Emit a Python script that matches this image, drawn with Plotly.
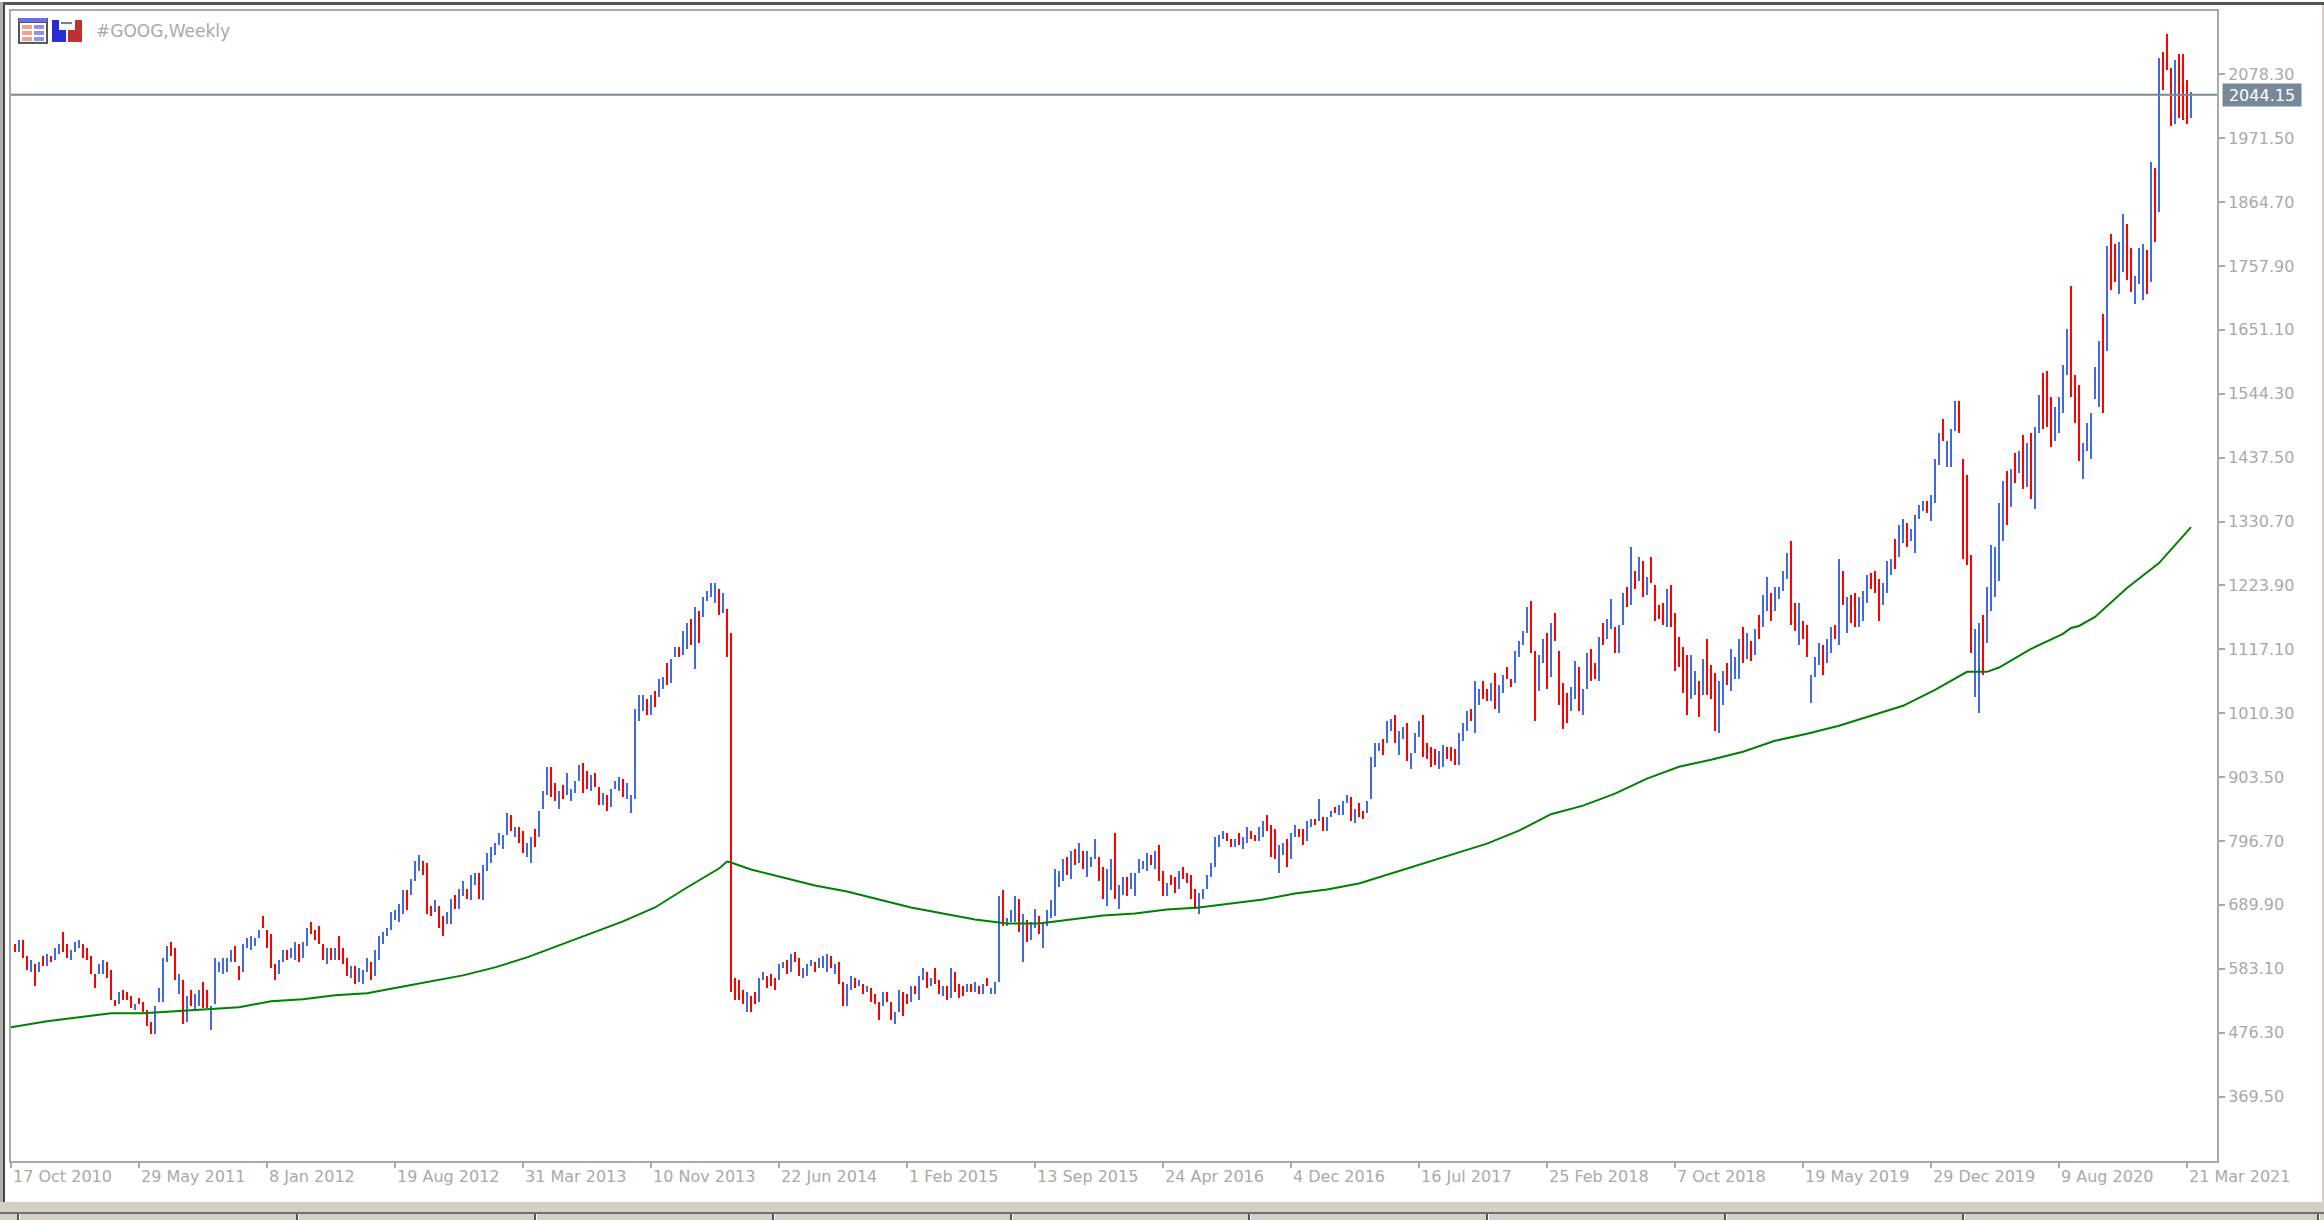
import plotly.graph_objects as go

# Weekly GOOG bars: high and low of each week, oldest first
WEEK_HIGH = [
    623.8,630.4,630.4,603.7,597.1,590.4,593.7,603.7,607.1,603.7,
    617.1,623.8,643.8,623.8,613.8,627.1,630.4,623.8,617.1,603.7,
    573.7,590.4,597.1,593.7,580.4,530.3,543.7,547,543.7,537,
    523.6,533.7,527,513.6,493.6,520.3,550.3,600.4,620.4,627.1,
    617.1,573.7,563.7,537,547,540.3,547,560.4,547,520.3,
    600.4,593.7,600.4,600.4,613.8,620.4,587.1,623.8,633.8,637.1,
    633.8,647.1,670.5,647.1,640.4,590.4,597.1,613.8,613.8,617.1,
    627.1,623.8,627.1,650.5,660.5,647.1,653.8,623.8,617.1,617.1,
    617.1,637.1,617.1,600.4,587.1,587.1,583.7,580.4,600.4,593.7,
    613.8,637.1,643.8,650.5,677.2,680.5,690.5,713.9,713.9,733.9,
    763.9,773.9,763.9,760.6,687.2,697.2,687.2,670.5,677.2,700.5,
    707.2,717.2,730.6,717.2,740.6,743.9,743.9,757.2,777.3,787.3,
    794,810.6,807.3,844,840.7,820.7,820.7,814,794,804,
    817.3,847.4,880.7,920.8,920.8,894.1,880.7,890.7,910.8,884.1,
    897.4,924.1,927.5,914.1,907.4,910.8,887.4,877.4,874.1,884.1,
    897.4,904.1,900.8,894.1,874.1,1017.6,1040.9,1040.9,1034.3,1040.9,
    1047.6,1067.7,1071,1094.4,1101,1121.1,1121.1,1147.8,1161.1,1167.8,
    1187.8,1181.1,1204.5,1214.5,1227.9,1227.9,1217.8,1211.2,1184.5,1144.4,
    567,563.7,547,543.7,537,543.7,567,577,570.4,573.7,
    567,590.4,593.7,597.1,607.1,610.4,600.4,583.7,590.4,597.1,
    593.7,600.4,603.7,607.1,603.7,590.4,593.7,560.4,557,570.4,
    567,563.7,557,553.7,550.3,540.3,527,543.7,543.7,527,
    510.3,547,543.7,540.3,553.7,553.7,570.4,583.7,577,567,
    583.7,563.7,553.7,553.7,583.7,577,557,553.7,557,557,
    560.4,553.7,557,567,550.3,560.4,703.9,713.9,667.1,680.5,
    703.9,700.5,673.8,663.8,660.5,683.8,670.5,657.1,680.5,697.2,
    750.6,747.2,767.3,770.6,780.6,783.9,794,780.6,780.6,770.6,
    800.6,770.6,753.9,750.6,767.3,810.6,723.9,737.2,737.2,743.9,
    743.9,767.3,763.9,777.3,773.9,780.6,790.6,747.2,727.2,740.6,
    737.2,747.2,753.9,743.9,740.6,717.2,710.5,717.2,740.6,760.6,
    804,807.3,814,810.6,800.6,800.6,810.6,804,820.7,814,
    807.3,820.7,830.7,840.7,824,817.3,790.6,794,800.6,810.6,
    824,817.3,817.3,830.7,834,834,867.4,837.3,837.3,847.4,
    854,857.4,864.1,874.1,870.7,850.7,860.7,847.4,864.1,937.5,
    960.8,960.8,967.5,997.6,1000.9,1007.6,980.9,987.5,994.2,944.1,
    977.5,997.6,1007.6,960.8,954.2,950.8,947.5,957.5,954.2,954.2,
    950.8,977.5,994.2,1014.2,1017.6,1064.3,1051,1064.3,1051,1061,
    1077.7,1057.6,1074.3,1087.7,1067.7,1114.4,1131.1,1147.8,1187.8,1197.9,
    1114.4,1107.7,1134.4,1144.4,1161.1,1177.8,1114.4,1061,1044.3,1054.3,
    1097.7,1087.7,1051,1111.1,1117.7,1094.4,1137.8,1161.1,1167.8,1201.1,
    1154.4,1157.8,1211.2,1221.2,1288,1247.9,1271.3,1264.6,1237.9,1271.3,
    1224.5,1191.2,1194.5,1217.8,1224.5,1177.8,1137.8,1121.1,1107.7,1107.7,
    1081,1064.3,1101,1134.4,1091,1077.7,1064.3,1081,1094.4,1117.7,
    1104.4,1134.4,1154.4,1144.4,1131.1,1151.1,1174.5,1207.8,1237.9,1211.2,
    1221.2,1221.2,1247.9,1277.9,1298,1194.5,1194.5,1164.5,1157.8,1074.3,
    1104.4,1127.7,1124.4,1134.4,1154.4,1157.8,1267.9,1247.9,1204.5,1207.8,
    1211.2,1204.5,1214.5,1241.2,1244.6,1247.9,1234.5,1227.9,1264.6,1267.9,
    1301.3,1324.7,1334.7,1328,1318,1341.3,1358,1364.7,1364.7,1374.7,
    1434.8,1478.2,1501.6,1464.9,1484.9,1531.6,1531.6,1434.8,1408.1,1274.6,
    1151.1,1161.1,1174.5,1221.2,1291.3,1288,1361.4,1398.1,1414.8,1418.1,
    1444.8,1448.2,1474.8,1461.5,1478.2,1488.2,1541.6,1578.3,1581.7,1538.3,
    1521.6,1538.3,1591.7,1651.8,1725.2,1575,1558.3,1461.5,1494.9,1511.6,
    1588.3,1631.7,1678.4,1791.9,1812,1795.3,1798.6,1845.3,1828.6,1788.6,
    1741.9,1788.6,1795.3,1785.2,1932.1,1922.1,2105.6,2115.7,2145.7,2088.9,
    2102.3,2112.3,2112.3,2068.9,2049,
]
WEEK_LOW = [
    610.4,610.4,600.4,580.4,577,553.7,577,587.1,587.1,593.7,
    597.1,607.1,610.4,600.4,597.1,610.4,617.1,600.4,597.1,573.7,
    550.3,573.7,573.7,567,530.3,520.3,523.6,530.3,530.3,517,
    513.6,523.6,510.3,486.9,473.6,473.6,527,527,593.7,603.7,
    563.7,540.3,490.3,493.6,520.3,513.6,520.3,517,517,480.3,
    523.6,577,573.7,577,593.7,593.7,563.7,577,617.1,613.8,
    620.4,633.8,650.5,617.1,583.7,563.7,573.7,593.7,597.1,600.4,
    597.1,593.7,600.4,620.4,640.4,630.4,623.8,597.1,590.4,597.1,
    597.1,597.1,590.4,570.4,567,557,560.4,557,577,563.7,
    570.4,597.1,623.8,637.1,647.1,663.8,660.5,673.8,680.5,707.2,
    730.6,747.2,740.6,673.8,670.5,677.2,650.5,637.1,657.1,657.1,
    683.8,683.8,703.9,700.5,697.2,723.9,700.5,697.2,747.2,760.6,
    773.9,790.6,784,807.3,814,804,794,777.3,770.6,760.6,
    787.3,804,850.7,874.1,870.7,864.1,850.7,867.4,874.1,864.1,
    877.4,897.4,877.4,884.1,880.7,887.4,857.4,857.4,847.4,854,
    884.1,880.7,870.7,867.4,844,867.4,997.6,1014.2,1007.6,1007.6,
    1020.9,1037.6,1051,1057.6,1061,1104.4,1104.4,1107.7,1117.7,1124.4,
    1084.3,1127.7,1171.1,1197.9,1204.5,1194.5,1174.5,1177.8,1104.4,543.7,
    530.3,530.3,523.6,510.3,510.3,523.6,527,563.7,550.3,553.7,
    547,563.7,583.7,573.7,577,593.7,570.4,567,570.4,587.1,
    577,583.7,583.7,577,583.7,573.7,557,520.3,520.3,547,
    550.3,553.7,540.3,543.7,527,523.6,497,520.3,527,497,
    490.3,510.3,503.6,523.6,527,540.3,530.3,563.7,550.3,553.7,
    557,540.3,537,530.3,533.7,543.7,533.7,537,543.7,543.7,
    543.7,540.3,540.3,553.7,540.3,540.3,560.4,653.8,653.8,660.5,
    660.5,643.8,593.7,627.1,630.4,650.5,640.4,617.1,653.8,667.1,
    670.5,720.5,730.6,740.6,733.9,757.2,760.6,750.6,737.2,753.9,
    767.3,730.6,700.5,687.2,713.9,700.5,683.8,707.2,703.9,717.2,
    703.9,743.9,750.6,747.2,757.2,750.6,730.6,703.9,703.9,723.9,
    710.5,717.2,733.9,727.2,700.5,683.8,673.8,700.5,717.2,737.2,
    753.9,787.3,800.6,797.3,787.3,787.3,790.6,783.9,794,800.6,
    797.3,797.3,804,814,770.6,767.3,743.9,773.9,753.9,767.3,
    804,804,790.6,797.3,820.7,824,830.7,814,814,837.3,
    844,840.7,840.7,860.7,830.7,827.3,837.3,834,844,867.4,
    920.8,947.5,940.8,960.8,980.9,960.8,940.8,967.5,930.8,917.4,
    944.1,970.8,937.5,934.1,920.8,924.1,917.4,920.8,934.1,930.8,
    924.1,924.1,964.2,980.9,997.6,977.5,1024.3,1034.3,1030.9,1030.9,
    1017.6,1010.9,1044.3,1067.7,1054.3,1061,1104.4,1124.4,1144.4,1111.1,
    997.6,1047.6,1094.4,1051,1071,1131.1,1024.3,984.2,994.2,1014.2,
    1034.3,1014.2,1007.6,1051,1064.3,1067.7,1064.3,1124.4,1134.4,1151.1,
    1111.1,1111.1,1157.8,1187.8,1191.2,1217.8,1231.2,1204.5,1207.8,1227.9,
    1164.5,1167.8,1157.8,1154.4,1154.4,1081,1087.7,1044.3,1007.6,1034.3,
    1040.9,1004.2,1040.9,1040.9,1034.3,980.9,977.5,1024.3,1057.6,1047.6,
    1067.7,1067.7,1094.4,1101,1097.7,1107.7,1134.4,1154.4,1181.1,1164.5,
    1181.1,1201.1,1214.5,1234.5,1157.8,1147.8,1124.4,1134.4,1104.4,1027.6,
    1071,1091,1074.3,1094.4,1111.1,1134.4,1124.4,1191.2,1144.4,1161.1,
    1154.4,1154.4,1164.5,1194.5,1217.8,1211.2,1164.5,1191.2,1211.2,1241.2,
    1251.2,1271.3,1294.6,1288,1298,1277.9,1334.7,1348,1344.7,1331.3,
    1361.4,1424.8,1464.9,1421.5,1421.5,1481.5,1478.2,1267.9,1257.9,1111.1,
    1037.6,1010.9,1074.3,1127.7,1181.1,1204.5,1231.2,1298,1324.7,1354.7,
    1394.8,1411.5,1384.7,1388.1,1368.1,1351.4,1478.2,1484.9,1488.2,1454.8,
    1464.9,1478.2,1511.6,1575,1538.3,1494.9,1431.5,1401.4,1448.2,1434.8,
    1535,1521.6,1511.6,1615,1718.5,1731.9,1711.8,1748.5,1735.2,1715.2,
    1695.1,1728.5,1701.8,1711.8,1731.9,1798.6,1848.7,2052.2,2085.6,1992.2,
    1995.5,2005.5,2002.2,1995.5,2005.5,
]
# B = week closed up, R = week closed down
WEEK_SIDE = (
    "RBRRBRBRBR" "BBRRBBBRRR" "RBBRRRBRRR" "BRRRRBBBBR" "RBRBRBBRRB"
    "BBBBBRRBBB" "BBRRRRBBRB" "BRBBRRRRBR" "BRRRBRBBBR" "BBBBBBBBRB"
    "BBRRRBRRBB" "RBBRBBRBBB" "BBBBRBRRBB" "RBBBRRBRBB" "BBRRBRRBRB"
    "BBRBBBBBRB" "RBBRBBRBBR" "BRBBBBRBRR" "RRRBRRBBRR" "RBBRBRRBBB"
    "RBBBRBRRBB" "RBRBRRRBRR" "BBRRBRBBRB" "RRBRBRRRBR" "BRBRBBBRBB"
    "BRBRBBRBBB" "BBBRBRBRBB" "BRRBBRBBRB" "BBBBRBRRBR" "RBRRRRBBBB"
    "BBBRRBRBBR" "RBBRRRBBRB" "BRRBBRBRBB" "RBBBRBRRBB" "BBRBBRBBRB"
    "BBRRRRBBRR" "RBBBRBBRRB" "RBBRRBBBBR" "RBBRBRRRRB" "BRBBRRBRBB"
    "RBBRBRBRBR" "RRRBRRRRRB" "BRBRRRBBRB" "BBRBRBRBBR" "BBBBRRBRRB"
    "BBRBBRBRBR" "RBBBRRRBBB" "RBBRBBBBRB" "BBRBBBRRRR" "BBRBBBBBRB"
    "RBRBRBBRRR" "BBBBRRRBBB" "BBRBRRBBRR" "BBBRBRBRRR" "BRRRB"
)
AXIS_DATES = [
    "17 Oct 2010", "29 May 2011", "8 Jan 2012", "19 Aug 2012", "31 Mar 2013",
    "10 Nov 2013", "22 Jun 2014", "1 Feb 2015", "13 Sep 2015", "24 Apr 2016",
    "4 Dec 2016", "16 Jul 2017", "25 Feb 2018", "7 Oct 2018", "19 May 2019",
    "29 Dec 2019", "9 Aug 2020", "21 Mar 2021",
]
PRICE_TICKS = [
    2078.30, 1971.50, 1864.70, 1757.90, 1651.10, 1544.30, 1437.50, 1330.70, 1223.90,
    1117.10, 1010.30, 903.50, 796.70, 689.90, 583.10, 476.30, 369.50,
]
# Moving average sampled at the listed week numbers
MA_WEEK = [
    -1, 8, 16, 24, 32, 40, 48, 56, 64, 72, 80, 88, 96, 104, 112, 120, 128, 136, 144, 152,
    160, 168, 176, 178, 179, 184, 192, 200, 208, 216, 224, 232, 240, 248, 256, 264, 272,
    280, 288, 296, 304, 312, 320, 328, 336, 344, 352, 360, 368, 376, 384, 392, 400, 408,
    416, 424, 432, 440, 448, 456, 464, 472, 480, 488, 493, 496, 504, 512, 514, 516, 520,
    528, 536, 544,
]
MA_VALUE = [
    485.3, 495.3, 502, 508.7, 508.7, 512, 515.3, 518.7, 528.7, 532, 538.7, 542, 552, 562,
    572, 585.4, 602.1, 622.1, 642.1, 662.2, 685.5, 718.9, 750.6, 762.3, 760.6, 748.9,
    735.6, 722.3, 712.3, 698.9, 685.5, 675.5, 665.5, 658.8, 658.8, 665.5, 672.2, 675.5,
    682.2, 685.5, 692.2, 698.9, 708.9, 715.6, 725.6, 742.3, 759, 775.7, 792.3, 814, 841.4,
    855.7, 875.8, 900.8, 920.8, 932.5, 945.9, 964.2, 975.9, 989.3, 1006, 1022.6, 1049.4,
    1079.4, 1079.4, 1086.6, 1117.7, 1142.8, 1152.8, 1156.1, 1171.1, 1219.5, 1261.2, 1321.3,
]
LAST_PRICE = 2044.15

WIDTH, HEIGHT = 2324, 1220
LEFT, RIGHT, TOP, BOTTOM = 11, 2217, 9, 1161
FRAME = "#A9A9A9"
SLATE = "#778899"
PANEL = "#D4D0C8"
UP, DOWN = "#4169E1", "#FF0000"
FONT = "DejaVu Sans"


def px_rect(x0, y0, x1, y1, fill):
    """Window furniture placed by screen pixel, outside the data scales."""
    return dict(
        type="rect", xref="paper", yref="paper", layer="above", line_width=0, fillcolor=fill,
        x0=(x0 - LEFT) / (RIGHT - LEFT), x1=(x1 - LEFT) / (RIGHT - LEFT),
        y0=(BOTTOM - y0) / (BOTTOM - TOP), y1=(BOTTOM - y1) / (BOTTOM - TOP),
    )


weeks = list(range(len(WEEK_HIGH)))
fig = go.Figure()
fig.add_bar(
    x=weeks,
    y=[h - l for h, l in zip(WEEK_HIGH, WEEK_LOW)],
    base=WEEK_LOW,
    width=0.5,
    marker=dict(color=[UP if s == "B" else DOWN for s in WEEK_SIDE], line_width=0),
    hoverinfo="skip",
)
fig.add_scatter(
    x=MA_WEEK, y=MA_VALUE, mode="lines",
    line=dict(color="#008000", width=2), hoverinfo="skip",
)

shapes = [
    # current price line
    dict(type="line", xref="paper", yref="y", x0=0, x1=1, y0=LAST_PRICE, y1=LAST_PRICE,
         line=dict(color=SLATE, width=2)),
    # terminal window edges
    px_rect(0, 0, WIDTH, 3, "#555555"),
    px_rect(0, 0, 3, 1202, "#B0B0B0"),
    px_rect(3, 3, 5, 1202, "#444444"),
    px_rect(2322, 3, WIDTH, 1204, PANEL),
    px_rect(0, 1202, WIDTH, 1204, PANEL),
    px_rect(0, 1204, WIDTH, 1212, PANEL),
    px_rect(0, 1212, WIDTH, 1214, "#6E6E6E"),
    px_rect(0, 1214, WIDTH, HEIGHT, PANEL),
    # chart list icon
    px_rect(18, 16, 48, 42, "#555555"),
    px_rect(19, 16, 47, 20, "#6A6AF0"),
    px_rect(20, 21, 46, 40, "#FFFFFF"),
    px_rect(22, 23, 32, 27, "#F0A090"),
    px_rect(22, 29, 32, 33, "#F0A090"),
    px_rect(22, 35, 32, 39, "#F0A090"),
    px_rect(34, 23, 44, 27, "#9090F0"),
    px_rect(34, 29, 44, 33, "#9090F0"),
    px_rect(34, 35, 44, 39, "#9090F0"),
    # buy and sell icon
    px_rect(52, 18, 66, 40, "#2A2AD8"),
    px_rect(68, 18, 82, 40, "#C03030"),
    px_rect(59, 17, 75, 28, "#FFFFFF"),
    px_rect(61, 20, 72, 22, "#808080"),
]
# tab strip dividers
for tab_edge in [17, 296, 534, 772, 1010, 1248, 1486, 1724, 1962, 2317]:
    shapes.append(px_rect(tab_edge, 1214, tab_edge + 2, HEIGHT, "#555555"))
    shapes.append(px_rect(tab_edge + 2, 1214, tab_edge + 3, HEIGHT, "#FFFFFF"))

fig.update_layout(
    width=WIDTH,
    height=HEIGHT,
    margin=dict(l=LEFT, r=WIDTH - RIGHT, t=TOP, b=HEIGHT - BOTTOM, pad=0),
    paper_bgcolor="#FFFFFF",
    plot_bgcolor="#FFFFFF",
    showlegend=False,
    bargap=0,
    shapes=shapes,
    font=dict(family=FONT, size=16, color=FRAME),
    xaxis=dict(
        range=[-1, 550.5],
        tickmode="array",
        tickvals=[-1 + 32 * k for k in range(len(AXIS_DATES))],
        ticktext=AXIS_DATES,
        tickangle=0,
        ticklabelposition="outside right",
        ticks="outside", ticklen=5, tickwidth=2, tickcolor=FRAME,
        showgrid=False, zeroline=False,
        showline=True, mirror=True, linewidth=2, linecolor=FRAME,
    ),
    yaxis=dict(
        side="right",
        range=[261.7, 2184.1],
        tickmode="array",
        tickvals=PRICE_TICKS,
        ticktext=[f"{p:.2f}" for p in PRICE_TICKS],
        ticks="outside", ticklen=6, tickwidth=2, tickcolor=FRAME,
        showgrid=False, zeroline=False,
        showline=True, mirror=True, linewidth=2, linecolor=FRAME,
    ),
    annotations=[
        dict(text="#GOOG,Weekly", xref="paper", yref="paper",
             x=(94 - LEFT) / (RIGHT - LEFT), y=(BOTTOM - 29) / (BOTTOM - TOP),
             xanchor="left", yanchor="middle", showarrow=False,
             font=dict(family=FONT, size=17, color=FRAME)),
        dict(text=f"{LAST_PRICE:.2f}", xref="paper", yref="y",
             x=(2222 - LEFT) / (RIGHT - LEFT), y=LAST_PRICE,
             xanchor="left", yanchor="middle", showarrow=False,
             bgcolor=SLATE, width=78, height=22, borderpad=0, align="center",
             font=dict(family=FONT, size=16, color="#FFFFFF")),
    ],
)

fig.write_html("out.html", config={"displayModeBar": False})
